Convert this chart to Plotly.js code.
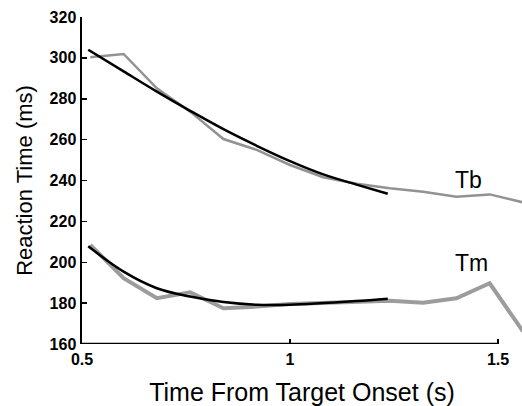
<!DOCTYPE html>
<html>
<head>
<meta charset="utf-8">
<script src="https://cdn.plot.ly/plotly-3.0.1.min.js"></script>
<style>html,body{margin:0;padding:0;background:#fff;}#chart{width:522px;height:406px;}</style>
</head>
<body>
<div id="chart"></div>
<script>
// Observed data (gray) sampled every 0.08 s
const timeObs = [0.52, 0.60, 0.68, 0.76, 0.84, 0.92, 1.00, 1.08, 1.16, 1.24, 1.32, 1.40, 1.48, 1.56];
const tbObs = [300.3, 301.9, 285.1, 273.7, 260.3, 255.0, 247.6, 241.6, 238.4, 236.2, 234.5, 232.1, 233.2, 229.3];
const tmObs = [208.5, 192.2, 182.4, 185.3, 177.5, 178.3, 179.6, 180.2, 180.8, 181.2, 180.2, 182.4, 189.7, 166.2];
// Fitted curves (black)
const timeFit = [0.515, 0.60, 0.68, 0.76, 0.84, 0.92, 1.00, 1.08, 1.16, 1.235];
const tbFit = [304.0, 293.4, 283.5, 274.1, 265.1, 257.0, 249.5, 243.0, 238.0, 233.5];
const tmFit = [207.8, 195.4, 187.3, 183.2, 180.5, 179.2, 179.2, 180.0, 181.0, 182.2];
// Axis ticks
const xTickVals = [0.5, 1, 1.5];
const xTickText = ["0.5", "1", "1.5"];
const yTickVals = [160, 180, 200, 220, 240, 260, 280, 300, 320];
const seriesLabels = ["Tb", "Tm"];

const font = "Liberation Sans, Arial, sans-serif";
const traces = [
  {x: timeObs, y: tbObs, mode: "lines", line: {color: "#929292", width: 2.5}, hoverinfo: "skip"},
  {x: timeObs, y: tmObs, mode: "lines", line: {color: "#9c9c9c", width: 4}, hoverinfo: "skip"},
  {x: timeFit, y: tbFit, mode: "lines", line: {color: "#000", width: 2.5, shape: "spline"}, hoverinfo: "skip"},
  {x: timeFit, y: tmFit, mode: "lines", line: {color: "#000", width: 2.5, shape: "spline"}, hoverinfo: "skip"}
];
const layout = {
  width: 522, height: 406,
  margin: {l: 82, r: 0, t: 17, b: 62},
  paper_bgcolor: "#fff", plot_bgcolor: "#fff",
  showlegend: false,
  font: {family: font, color: "#000"},
  xaxis: {
    range: [0.5, 0.5 + 440/416],
    tickvals: xTickVals, ticktext: xTickText,
    ticks: "inside", ticklen: 5, tickwidth: 1.5, tickcolor: "#000",
    ticklabelstandoff: 4,
    showline: false, showgrid: false, zeroline: false,
    tickfont: {family: font, size: 16, weight: "bold"},
    title: {text: "Time From Target Onset (s)", font: {family: font, size: 25}, standoff: 19}
  },
  yaxis: {
    range: [160, 320],
    tickvals: yTickVals,
    ticks: "inside", ticklen: 5, tickwidth: 1.5, tickcolor: "#000",
    showline: true, linecolor: "#000", linewidth: 2.5,
    showgrid: false, zeroline: false,
    tickfont: {family: font, size: 16, weight: "bold"},
    title: {text: "Reaction Time (ms)", font: {family: font, size: 22}, standoff: 11}
  },
  shapes: [
    {type: "line", xref: "x", yref: "y", x0: xTickVals[0], x1: xTickVals[xTickVals.length - 1], y0: 160, y1: 160,
     line: {color: "#000", width: 2.5}}
  ],
  annotations: [
    {x: 1.43, y: 240.3, xref: "x", yref: "y", text: seriesLabels[0], showarrow: false, font: {family: font, size: 23}},
    {x: 1.436, y: 199.8, xref: "x", yref: "y", text: seriesLabels[1], showarrow: false, font: {family: font, size: 23}}
  ]
};
Plotly.newPlot("chart", traces, layout, {staticPlot: true, displayModeBar: false});
</script>
</body>
</html>
